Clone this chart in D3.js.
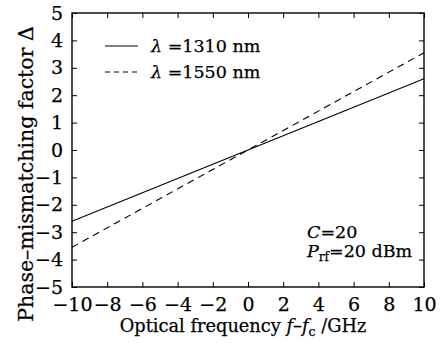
<!DOCTYPE html>
<html><head><meta charset="utf-8">
<script src="https://cdn.jsdelivr.net/npm/d3@7"></script>
<style>body{margin:0;background:#fff}text{font-family:"DejaVu Serif",serif;fill:#000;stroke:#000;stroke-width:0.25px}</style>
</head><body><svg id="c" width="446" height="343"></svg>
<script>
const freq = [-10, 0, 10];
const delta1310 = [-2.6, 0, 2.6];
const delta1550 = [-3.55, 0, 3.55];
const xTicks = [-10,-8,-6,-4,-2,0,2,4,6,8,10];
const yTicks = [-5,-4,-3,-2,-1,0,1,2,3,4,5];
const legendLabels = ["1310 nm","1550 nm"];

const svg = d3.select("#c");
const L=72,R=424,T=13,B=287;
const x = d3.scaleLinear().domain([-10,10]).range([L,R]);
const y = d3.scaleLinear().domain([-5,5]).range([B,T]);
const fs = 19;

svg.append("rect").attr("x",L).attr("y",T).attr("width",R-L).attr("height",B-T)
  .attr("fill","none").attr("stroke","#000").attr("stroke-width",1.4);

const fmt = d=>d<0?"\u2212"+(-d):d;
const ax = d3.axisBottom(x).tickValues(xTicks).tickSize(-5).tickPadding(11).tickFormat(fmt);
const gx = svg.append("g").attr("transform",`translate(0,${B})`).call(ax);
gx.select(".domain").remove();
gx.selectAll("text").attr("font-size",fs).attr("font-family","DejaVu Serif");
const axT = d3.axisTop(x).tickValues(xTicks).tickSize(-5).tickFormat("");
svg.append("g").attr("transform",`translate(0,${T})`).call(axT).select(".domain").remove();

const ay = d3.axisLeft(y).tickValues(yTicks).tickSize(-5).tickPadding(9).tickFormat(fmt);
const gy = svg.append("g").attr("transform",`translate(${L},0)`).call(ay);
gy.select(".domain").remove();
gy.selectAll("text").attr("font-size",fs).attr("font-family","DejaVu Serif");
const ayR = d3.axisRight(y).tickValues(yTicks).tickSize(-5).tickFormat("");
svg.append("g").attr("transform",`translate(${R},0)`).call(ayR).select(".domain").remove();

const line = d3.line().x((d,i)=>x(freq[i])).y(d=>y(d));
svg.append("path").datum(delta1310).attr("d",line).attr("fill","none").attr("stroke","#000").attr("stroke-width",1.1);
svg.append("path").datum(delta1550).attr("d",line).attr("fill","none").attr("stroke","#000").attr("stroke-width",1.1).attr("stroke-dasharray","7,5");

// legend
const lg = svg.append("g");
[0,1].forEach(i=>{
  const yy = 46 + i*26;
  lg.append("line").attr("x1",105).attr("x2",138).attr("y1",yy).attr("y2",yy).attr("stroke","#000")
    .attr("stroke-dasharray", i? "5,4":null);
  const t = lg.append("text").attr("x",151).attr("y",yy+6).attr("font-size",17.5);
  t.append("tspan").attr("font-style","italic").text("\u03bb");
  t.append("tspan").text(" =" + legendLabels[i]);
});

// annotation
const a1 = svg.append("text").attr("x",307).attr("y",238).attr("font-size",17.5);
a1.append("tspan").attr("font-style","italic").text("C");
a1.append("tspan").text("=20");
const a2 = svg.append("text").attr("x",307).attr("y",257).attr("font-size",17.5);
a2.append("tspan").attr("font-style","italic").text("P");
a2.append("tspan").attr("font-size",12).attr("dy",4).text("rf");
a2.append("tspan").attr("dy",-4).text("=20 dBm");

// axis labels
const xl = svg.append("text").attr("x",243).attr("y",332).attr("text-anchor","middle").attr("font-size",17.8);
xl.append("tspan").text("Optical frequency ");
xl.append("tspan").attr("font-style","italic").text("f");
xl.append("tspan").text("\u2013");
xl.append("tspan").attr("font-style","italic").text("f");
xl.append("tspan").attr("font-size",12.5).attr("dy",4).text("c");
xl.append("tspan").attr("dy",-4).text(" /GHz");

svg.append("text").attr("transform",`translate(33,174) rotate(-90)`).attr("text-anchor","middle").attr("font-size",20.5)
  .text("Phase\u2013mismatching factor \u0394");
</script></body></html>
